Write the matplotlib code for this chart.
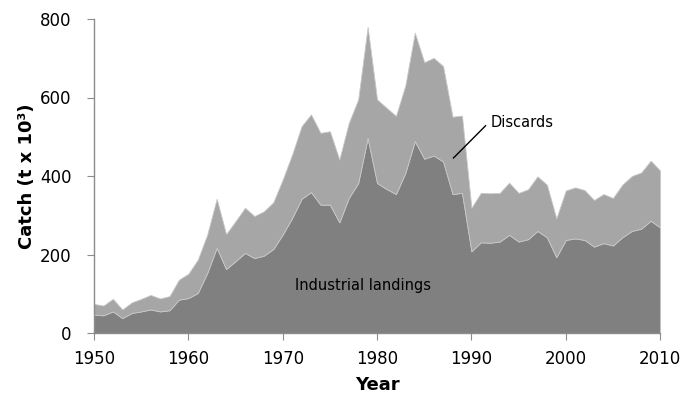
import numpy as np
import matplotlib
matplotlib.use('Agg')
import matplotlib.pyplot as plt

# years and catches (t x 10^3)
years = list(range(1950, 2011))

industrial = [47, 45, 55, 38, 51, 55, 60, 55, 58, 85,
              89, 102, 153, 217, 163, 183, 204, 191, 197, 214,
              251, 293, 342, 359, 327, 327, 282, 344, 382, 497,
              382, 367, 354, 408, 489, 444, 452, 437, 354, 357,
              208, 231, 230, 233, 250, 233, 239, 260, 244, 193,
              237, 241, 237, 220, 229, 223, 244, 260, 266, 286,
              269]

total = [74, 70, 87, 60, 78, 87, 97, 88, 94, 136,
         151, 187, 251, 342, 252, 285, 319, 298, 310, 333,
         391, 455, 527, 557, 510, 514, 442, 535, 595, 780,
         595, 574, 553, 631, 765, 690, 701, 680, 551, 554,
         319, 357, 356, 357, 383, 357, 366, 399, 378, 292,
         363, 371, 364, 339, 354, 344, 378, 400, 409, 439,
         414]

discards = [t - i for t, i in zip(total, industrial)]

plt.rcParams['font.family'] = ['DejaVu Sans']

fig = plt.figure(figsize=(6.98, 4.0), dpi=100)
ax = fig.add_axes([0.1347, 0.1675, 0.811, 0.785])

ax.stackplot(years, industrial, discards,
             colors=['#808080', '#a6a6a6'],
             edgecolor='#c8c8c8', linewidth=0.6)

ax.set_xlim(1950, 2010)
ax.set_ylim(0, 800)
ax.set_xticks(range(1950, 2011, 10))
ax.set_yticks(range(0, 801, 200))

for s in ['top', 'right']:
    ax.spines[s].set_visible(False)
for s in ['left', 'bottom']:
    ax.spines[s].set_color('#8c8c8c')
    ax.spines[s].set_linewidth(1.0)

ax.tick_params(axis='y', direction='out', length=5, color='#8c8c8c',
               labelsize=12, pad=11)
ax.tick_params(axis='x', direction='out', length=5, color='#8c8c8c',
               labelsize=12, pad=7)

ax.set_xlabel('Year', fontsize=13, fontweight='bold', labelpad=6)
ax.set_ylabel('Catch (t x 10³)', fontsize=13, fontweight='bold', labelpad=3)

ax.text(1978.5, 122, 'Industrial landings', fontsize=10.5, ha='center', va='center')
ax.plot([1988.1, 1991.5], [446, 528], color='black', lw=1.0)
ax.text(1992.0, 536, 'Discards', fontsize=10.5, ha='left', va='center')

fig.savefig('out.png', dpi=100)
